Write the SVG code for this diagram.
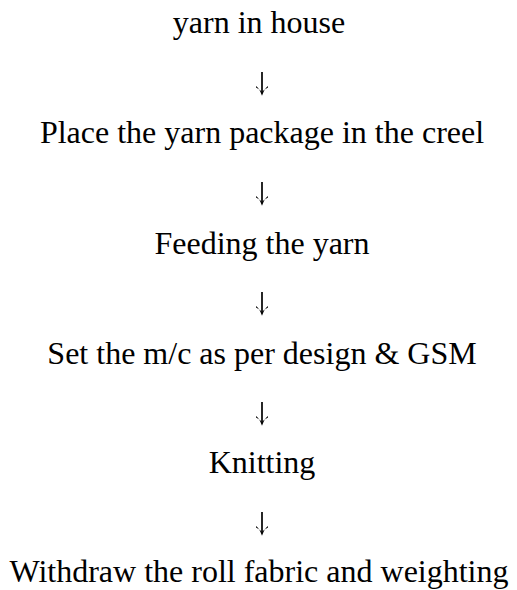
<svg xmlns="http://www.w3.org/2000/svg" width="517" height="590" viewBox="0 0 517 590">
<style>
.t{font-family:"Liberation Serif","Times New Roman",serif;font-size:32px;fill:#000;text-anchor:middle}
.shaft{stroke:#000;stroke-width:1.7;fill:none}
.head{fill:#000;stroke:none}
</style>
<defs>
<g id="arr">
<line class="shaft" x1="0" y1="-23" x2="0" y2="-2"/>
<path class="head" d="M-6,-9 Q-2.5,-6.5 0,0.8 Q2.5,-6.5 6,-9 L6,-7.6 Q2,-5.5 0,-3 Q-2,-5.5 -6,-7.6 Z"/>
</g>
</defs>
<rect width="517" height="590" fill="#fff"/>
<g id="n1"><text class="t" x="259" y="33">yarn in house</text></g>
<g id="n2"><text class="t" x="262" y="143">Place the yarn package in the creel</text></g>
<g id="n3"><text class="t" x="262" y="254">Feeding the yarn</text></g>
<g id="n4"><text class="t" x="262" y="364">Set the m/c as per design &amp; GSM</text></g>
<g id="n5"><text class="t" x="262" y="473">Knitting</text></g>
<g id="n6"><text class="t" x="259" y="582">Withdraw the roll fabric and weighting</text></g>
<g id="connectors">
<use href="#arr" x="262" y="95"/>
<use href="#arr" x="262" y="205"/>
<use href="#arr" x="262" y="315"/>
<use href="#arr" x="262" y="425"/>
<use href="#arr" x="262" y="535"/>
</g>
</svg>
